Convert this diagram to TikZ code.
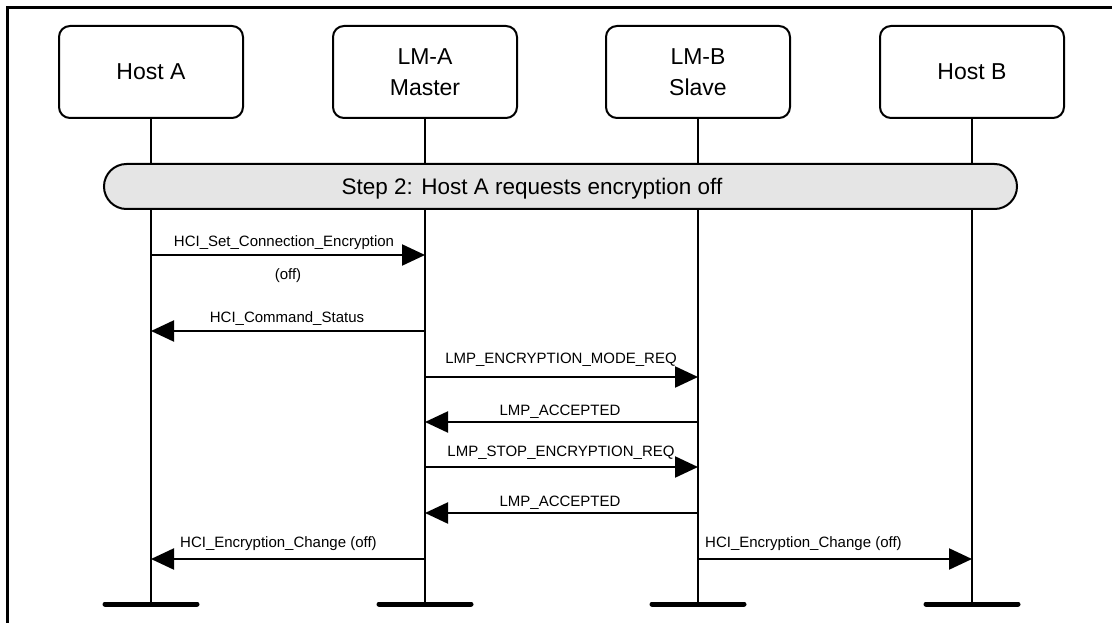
\documentclass[tikz,border=0pt]{standalone}
\usepackage{fontspec}
\setmainfont{Liberation Sans}
\usetikzlibrary{arrows.meta}
\begin{document}
\begin{tikzpicture}[x=1pt,y=-1pt,
  entity/.style={draw,line width=2pt,rounded corners=11pt,minimum width=184pt,minimum height=92pt,align=center,inner sep=0pt,font=\fontsize{23}{31}\selectfont},
  stepbar/.style={draw,line width=2pt,fill=black!10,rounded corners=22.5pt,minimum width=913pt,minimum height=45pt,inner sep=0pt},
  steptext/.style={font=\fontsize{22.5}{26}\selectfont,inner sep=0pt,anchor=base},
  lifeline/.style={line width=2.4pt},
  endbar/.style={line width=5pt,line cap=round},
  msg/.style={line width=2.2pt,-{Triangle[length=23pt,width=21pt]}},
  lbl/.style={font=\fontsize{15}{18}\selectfont,inner sep=0pt,anchor=base},
  frame/.style={line width=3pt}]
\useasboundingbox (0,0) rectangle (1112,623);
\draw[frame] (7.5,623) -- (7.5,7.5) -- (1112,7.5);
% entities
\node[entity] (ha) at (151,72) {Host A};
\node[entity] (lma) at (425,72) {LM-A\\Master};
\node[entity] (lmb) at (698,72) {LM-B\\Slave};
\node[entity] (hb) at (972,72) {Host B};
% lifeline ends
\coordinate (haE) at (151,604);
\coordinate (lmaE) at (425,604);
\coordinate (lmbE) at (698,604);
\coordinate (hbE) at (972,604);
\foreach \n in {ha,lma,lmb,hb}{
  \draw[lifeline] (\n.south) -- (\n E);
  \draw[endbar] ([xshift=-46pt]\n E) -- ([xshift=46pt]\n E);
}
% step bar
\node[stepbar] (step) at (560.5,186.5) {};
\node[steptext] (steplbl) at (532,194) {Step 2: Host A requests encryption off};
% message endpoints
\coordinate (m1a) at (151,255); \coordinate (m1b) at (425,255);
\coordinate (m2a) at (425,331); \coordinate (m2b) at (151,331);
\coordinate (m3a) at (425,377); \coordinate (m3b) at (698,377);
\coordinate (m4a) at (698,422); \coordinate (m4b) at (425,422);
\coordinate (m5a) at (425,467); \coordinate (m5b) at (698,467);
\coordinate (m6a) at (698,513); \coordinate (m6b) at (425,513);
\coordinate (m7a) at (425,559); \coordinate (m7b) at (151,559);
\coordinate (m8a) at (698,559); \coordinate (m8b) at (972,559);
\draw[msg] (m1a) -- (m1b);
\draw[msg] (m2a) -- (m2b);
\draw[msg] (m3a) -- (m3b);
\draw[msg] (m4a) -- (m4b);
\draw[msg] (m5a) -- (m5b);
\draw[msg] (m6a) -- (m6b);
\draw[msg] (m7a) -- (m7b);
\draw[msg] (m8a) -- (m8b);
% labels
\node[lbl] (l1) at (284,247) {HCI\_Set\_Connection\_Encryption};
\node[lbl] (l1b) at (288,279) {(off)};
\node[lbl] (l2) at (287,322) {HCI\_Command\_Status};
\node[lbl] (l3) at (561,363) {LMP\_ENCRYPTION\_MODE\_REQ};
\node[lbl] (l4) at (560,415) {LMP\_ACCEPTED};
\node[lbl] (l5) at (561,456) {LMP\_STOP\_ENCRYPTION\_REQ};
\node[lbl] (l6) at (560,506) {LMP\_ACCEPTED};
\node[lbl,anchor=base west] (l7) at (180,547) {HCI\_Encryption\_Change (off)};
\node[lbl,anchor=base west] (l8) at (705,547) {HCI\_Encryption\_Change (off)};
\end{tikzpicture}
\end{document}
